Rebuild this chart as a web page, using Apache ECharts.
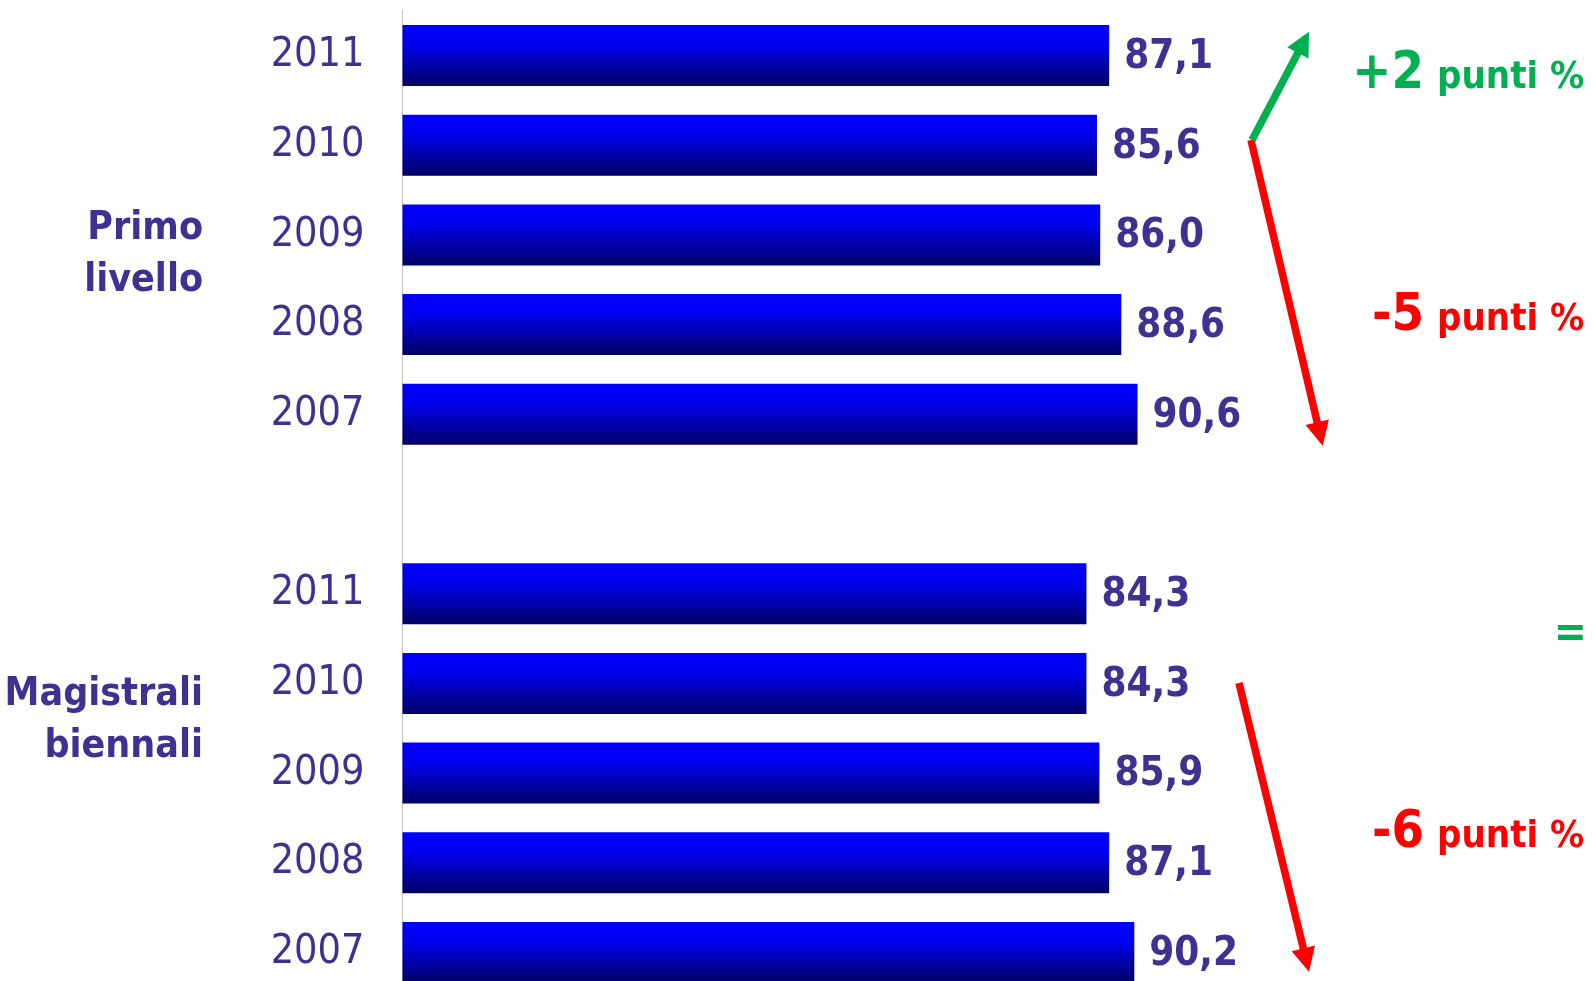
<!DOCTYPE html>
<html>
<head>
<meta charset="utf-8">
<script src="https://cdn.jsdelivr.net/npm/echarts@6/dist/echarts.min.js"></script>
<style>
html, body { margin: 0; padding: 0; background: #fff; }
#chart { width: 1593px; height: 981px; }
</style>
</head>
<body>
<div id="chart"></div>
<script>
// dati
const years = ['2011', '2010', '2009', '2008', '2007']
const primoLivello = [87.1, 85.6, 86.0, 88.6, 90.6]
const magistraliBiennali = [84.3, 84.3, 85.9, 87.1, 90.2]
const groupNames = ['Primo\nlivello', 'Magistrali\nbiennali']
const changeValues = ['+2', '-5', '=', '-6']
const changeUnit = 'punti %'

const FONT = "'DejaVu Sans Condensed', 'Noto Sans', sans-serif"
const TEXT_COLOR = '#3E3192'
const GREEN = '#00B050'
const RED = '#FF0000'

// categorie: gruppo 1, riga vuota, gruppo 2
const categories = [
  ...years.map(y => 'P|' + y),
  'gap|',
  ...years.map(y => 'M|' + y)
]
const values = [...primoLivello, null, ...magistraliBiennali]

// freccia: linea + punta
const arrow = (x1, y1, x2, y2, color) => {
  const dx = x2 - x1
  const dy = y2 - y1
  const len = Math.sqrt(dx * dx + dy * dy)
  const ux = dx / len
  const uy = dy / len
  const headLen = 24
  const headW = 24
  const bx = x2 - ux * headLen
  const by = y2 - uy * headLen
  return [
    {
      type: 'line',
      shape: { x1: x1, y1: y1, x2: bx + ux * 2, y2: by + uy * 2 },
      style: { stroke: color, lineWidth: 7.5 },
      z: 10
    },
    {
      type: 'polygon',
      shape: {
        points: [
          [x2, y2],
          [bx - uy * headW / 2, by + ux * headW / 2],
          [bx + uy * headW / 2, by - ux * headW / 2]
        ]
      },
      style: { fill: color },
      z: 10
    }
  ]
}

const plainText = (text, x, y, size, color, align) => ({
  type: 'text',
  x: x,
  y: y,
  z: 10,
  style: {
    text: text,
    fill: color,
    font: 'bold ' + size + 'px ' + FONT,
    align: align,
    textAlign: align,
    verticalAlign: 'middle',
    textVerticalAlign: 'middle'
  }
})

// testo variazione (baseline = y)
const changeText = (value, baseline, color) => [
  plainText(value, 1424, baseline - 0.28 * 52, 52, color, 'right'),
  plainText(changeUnit, 1437, baseline - 0.28 * 38, 38, color, 'left')
]

const groupText = (text, y) => ({
  type: 'text',
  x: 203,
  y: y,
  z: 10,
  style: {
    text: text,
    fill: TEXT_COLOR,
    font: 'bold 39px ' + FONT,
    lineHeight: 52,
    align: 'right',
    textAlign: 'right',
    verticalAlign: 'middle',
    textVerticalAlign: 'middle'
  }
})

const chart = echarts.init(document.getElementById('chart'))

const option = {
  backgroundColor: '#ffffff',
  animation: false,
  grid: {
    left: 402.5,
    top: 10.65,
    width: 811.3,
    height: 986.7,
    containLabel: false,
    outerBoundsMode: 'none'
  },
  xAxis: {
    type: 'value',
    min: 0,
    max: 100,
    show: false
  },
  yAxis: {
    type: 'category',
    inverse: true,
    data: categories,
    axisLine: { show: true, lineStyle: { color: '#BFBFBF', width: 1 } },
    axisTick: { show: false },
    splitLine: { show: false },
    axisLabel: {
      margin: 38,
      fontFamily: FONT,
      fontSize: 41,
      color: TEXT_COLOR,
      padding: [4, 0, 0, 0],
      formatter: v => v.split('|')[1]
    }
  },
  series: [
    {
      type: 'bar',
      data: values,
      barWidth: 61,
      itemStyle: {
        color: new echarts.graphic.LinearGradient(0, 0, 0, 1, [
          { offset: 0, color: '#0000FF' },
          { offset: 0.3, color: '#0000F2' },
          { offset: 1, color: '#000066' }
        ])
      },
      label: {
        show: true,
        position: 'right',
        distance: 15,
        offset: [0, 2],
        fontFamily: FONT,
        fontWeight: 'bold',
        fontSize: 40,
        color: TEXT_COLOR,
        formatter: p => p.value.toFixed(1).replace('.', ',')
      }
    }
  ],
  graphic: [
    groupText(groupNames[0], 255),
    groupText(groupNames[1], 721),
    ...arrow(1251, 140, 1322.7, 445.7, RED),
    ...arrow(1252, 140, 1309, 31.7, GREEN),
    ...arrow(1239, 683, 1309, 971.7, RED),
    ...changeText(changeValues[0], 89, GREEN),
    ...changeText(changeValues[1], 331, RED),
    plainText(changeValues[2], 1587, 634.5, 44, GREEN, 'right'),
    ...changeText(changeValues[3], 848, RED)
  ]
}

chart.setOption(option)
</script>
</body>
</html>
